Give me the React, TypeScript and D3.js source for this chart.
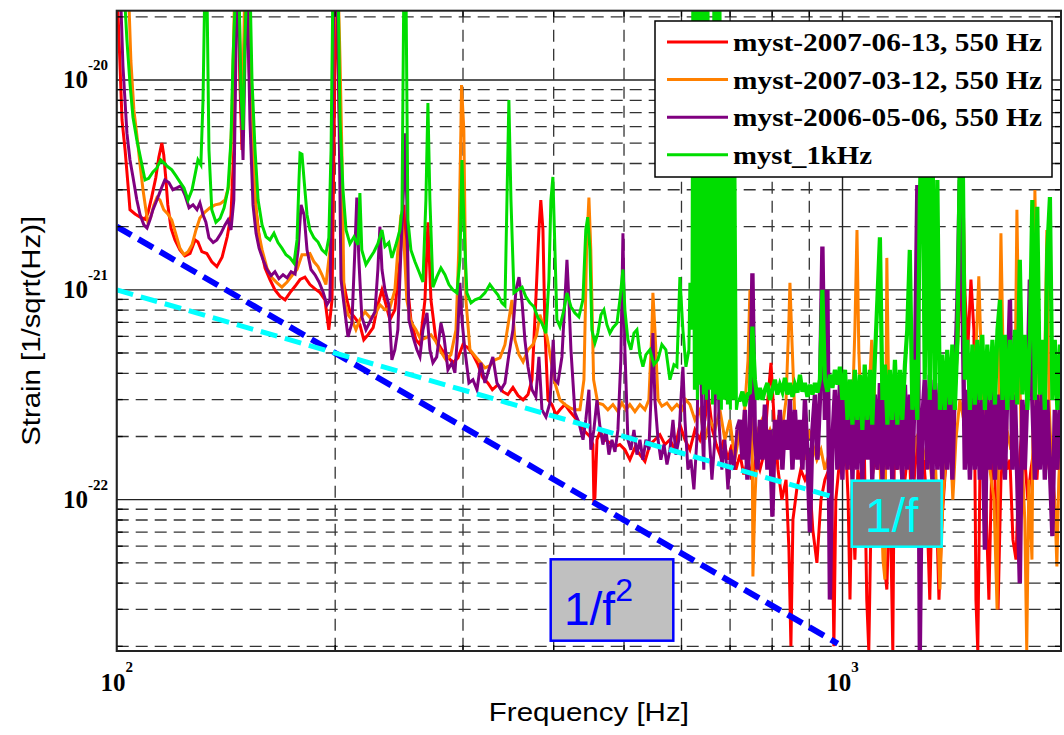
import React from "react";
import * as d3 from "d3";

const UNIT = 1e-22;

// [frequency Hz, strain in units of 1e-22]
const red: [number, number][] = [
[100,300],[101,124],[101.7,64.5],[102.7,46.4],[103.7,31],[104.3,24.1],[106,23],[107.7,22.2],[109.4,21.7],[110.4,23.2],[111.7,27.5],[113.2,34.2],[114.3,42.9],[115.4,50.1],[116.1,43.9],[116.9,33.4],[117.6,25.4],[118.8,19.7],[120.3,17.3],[122.2,15.5],[124.2,14.5],[126.2,14.9],[128.2,17.3],[129.4,16.9],[131,15.2],[133.1,14.9],[135.2,13.6],[137.4,12.9],[139.7,14.3],[142,17.9],[143.7,22.8],[145,46.4],[146,193],[147,300],[147.8,100],[148.8,46.4],[149.7,124],[150.7,300],[152.1,124],[153.6,46.4],[155.6,24.1],[157.6,16.4],[160.1,12.7],[162.6,11.2],[165.2,10],[167.9,9.3],[170.6,8.96],[173.3,9.7],[176.1,10.4],[178.9,11.2],[181.7,11.5],[184.6,10.6],[187.6,10.1],[190.6,9.7],[193.6,8.96],[196,6.45],[198,8.96],[199.9,124],[201.2,215],[203.1,46.4],[205,11.2],[207.6,8.96],[209.6,7.86],[212.9,7.36],[216.3,6.82],[219,5.78],[222,6.11],[225.6,6.6],[229,8.49],[232,10],[235,8.49],[237.9,7.2],[241.7,8.03],[245.6,13.9],[248.7,25.4],[251,11.2],[254.3,7.2],[258.4,5.78],[261.7,5.48],[265.9,8.96],[268.4,21],[271,8.96],[275.3,5.78],[280.6,5.18],[286,4.79],[290.6,4.49],[295.2,4.74],[299.9,5.48],[304.7,5.3],[309.6,4.91],[314.6,4.4],[319.5,3.81],[324.6,3.6],[329.3,3.34],[335,3.53],[340.5,3.27],[345.9,3.17],[351.5,3.43],[357.1,3.14],[363,2.99],[368.7,3.17],[373.4,3.73],[378,8.96],[381.7,19.3],[384,26.8],[386.6,19.3],[389.1,6.45],[392.8,2.99],[397.8,2.84],[402.9,2.54],[408,2.68],[414.5,2.84],[421.2,2.63],[427.9,2.46],[434.7,2.28],[441.7,2.11],[448.7,2.0],[453,1.83],[454.4,1.0],[455.9,1.02],[458.9,1.93],[463.2,2.11],[470.6,1.93],[478.1,1.87],[485.8,1.79],[493.5,1.83],[501.4,1.73],[509.4,1.55],[517.6,1.77],[525.9,1.64],[534.3,1.52],[542.8,1.83],[551.5,1.93],[560.3,2.04],[569.3,1.83],[578.4,1.93],[587.6,1.73],[597,2.28],[606.6,1.93],[616.2,1.73],[626.1,2.15],[636.1,1.93],[646.3,2.4],[653,3.17],[662,2.15],[670,1.83],[677.8,1.64],[686,1.93],[695,1.55],[704,1.83],[713,1.39],[722.2,1.64],[731,1.32],[741,1.55],[750,1.245],[760,1.58],[769.5,1.39],[779,1.64],[789,2.99],[797,4.49],[805,2.4],[815,1.39],[825,1.0],[836,1.245],[843.7,0.578],[849,0.2],[854.5,0.803],[865,1.12],[876,1.39],[887.6,1.245],[899,1.39],[910,0.72],[922,0.5],[934,1.0],[945.7,1.245],[957.8,1.39],[967,1.0],[973,0.2],[979,1.0],[988,1.39],[998,3.09],[1008,2.15],[1018,1.0],[1024,0.334],[1031,1.245],[1040,0.518],[1050,1.39],[1060,1.12],[1070,2.4],[1080,0.334],[1087,0.19],[1097,1.245],[1108,1.55],[1119,1.39],[1130,1.93],[1140,0.518],[1151,0.373],[1162,1.245],[1173,0.19],[1181,4.3],[1188,1.39],[1200,1.73],[1211,1.0],[1223,1.39],[1234,2.15],[1246,0.8],[1258,1.39],[1270,1.93],[1282,1.245],[1294,1.55],[1306,1.0],[1319,0.334],[1331,1.39],[1344,1.245],[1358,0.334],[1371,0.8],[1383,1.245],[1397,1.93],[1410,1.55],[1424,2.4],[1437,4.64],[1451,8.96],[1460,26.8],[1465,33.4],[1474,10],[1488,5.18],[1503,11.2],[1517,6.45],[1527,0.334],[1536,0.19],[1546,1.245],[1561,1.73],[1576,1.0],[1591,0.334],[1606,1.55],[1622,1.245],[1638,0.3],[1653,1.245],[1669,1.93],[1685,1.39],[1701,1.55],[1717,0.645],[1734,0.518],[1750,1.39],[1766,2.15],[1783,1.55],[1800,1.0],[1818,1.39],[1835,1.73],[1853,1.245],[1870,2.15],[1888,1.55],[1906,1.39],[1925,1.93],[1943,1.245],[1961,1.73],[1980,1.39],[1998,1.55]
];

const orange: [number, number][] = [
[100,464],[103.7,300],[104.6,124],[105.6,72],[106.6,54.7],[107.7,39.4],[108.7,30],[109.7,24.1],[110.4,21],[111.4,22.2],[112.5,25.4],[113.6,27.5],[114.7,26.8],[116.1,24.1],[117.6,23],[119.1,21.5],[120.7,18.3],[122.2,15.8],[123.8,14.7],[125.4,15.2],[127,16.4],[128.6,19.3],[130.2,22],[132.3,23.5],[134.4,24.6],[136.6,25.4],[138.8,25.7],[141,26.8],[142.8,31.6],[144.1,64.5],[145.5,300],[147.3,300],[148.8,51.8],[150.2,300],[152.1,300],[153.6,57.8],[155.1,26.8],[156.6,19.3],[158.6,15.5],[161.1,12.7],[163.7,11.4],[166.3,10.8],[168.9,10.3],[171.7,10.9],[174.4,11.7],[177.2,12.5],[180,14.7],[182.3,14.7],[184.6,14.9],[187,13.6],[189.4,12.9],[191.8,11.8],[194.2,10.6],[196.7,15.5],[198.6,124],[199.9,300],[201.8,300],[203.1,124],[204.4,41.6],[205.7,8.96],[208.3,7.61],[210.9,7.2],[213.6,6.45],[216.3,7.2],[219.8,7.86],[223.4,7.36],[226.9,7.61],[230.5,8.49],[234.2,8.03],[237.9,8.2],[241.7,10],[244,15.5],[246.4,22.8],[248.7,17.3],[251,8.96],[254.3,7.05],[258.4,6.45],[262.5,5.78],[266.7,5.9],[271,6.11],[275.3,5.66],[279.7,5.07],[284.2,4.64],[288.7,4.91],[293.4,6.45],[296,15.5],[298,57.8],[298.6,94.7],[300.8,57.8],[302.8,8.96],[306.7,5.18],[311.6,4.84],[316.5,4.54],[321.6,4.25],[326.7,4.35],[332,4.64],[337.3,4.74],[342.7,5.48],[347,7.2],[350.4,8.96],[353.7,5.78],[358.3,4.91],[363,4.54],[368.7,5.18],[374.5,5.48],[379,6.11],[382.9,7.61],[386.6,6.82],[391.6,5.97],[396.5,4.64],[401.6,3.6],[408,2.99],[414.5,2.84],[421.2,2.74],[427.9,2.68],[434.7,2.68],[440.3,3.73],[444,15.5],[447.3,27.5],[450,15.5],[454,3.73],[460,2.89],[467.6,2.84],[475,2.68],[482.7,2.84],[490.4,2.63],[496.7,2.89],[503,2.68],[509.4,2.84],[517.6,2.63],[525.9,2.84],[534.3,2.68],[541,2.99],[546.3,6.45],[548,9.67],[551.5,6.45],[557,2.99],[563.8,2.79],[572.9,2.89],[582,2.68],[591.3,2.84],[600.8,2.68],[608.5,2.99],[616.2,2.84],[626.1,2.4],[636.1,2.68],[646.3,1.93],[656.6,2.4],[667,2.15],[677.8,2.68],[688.6,1.93],[699.6,2.4],[710.8,1.55],[722.2,2.15],[731.4,2.4],[741,4.64],[745.5,10],[750.3,3.73],[752.6,0.43],[757.4,1.0],[764.6,2.15],[774.5,2.4],[784,1.93],[794.3,2.15],[804.4,1.83],[815,2.4],[825.4,2.15],[836,2.99],[843.7,7.2],[846.4,10.8],[851.7,5.78],[859.9,2.4],[868,1.73],[876,1.93],[887.6,1.55],[899,2.15],[910,1.83],[922,1.55],[934,1.73],[945.7,1.39],[957.8,1.64],[970,2.15],[982,1.73],[995,2.4],[1008,1.93],[1021,1.39],[1031,2.4],[1040,6.45],[1047,19.3],[1053,5.18],[1063,2.15],[1077,2.4],[1087,2.99],[1097,5.78],[1108,2.99],[1122,2.4],[1137,0.518],[1144,0.416],[1151,14.2],[1158,2.99],[1170,2.15],[1185,1.93],[1200,2.4],[1215,1.73],[1230,2.15],[1246,1.39],[1262,1.93],[1278,2.15],[1294,1.55],[1311,1.93],[1327,1.245],[1344,1.39],[1362,0.373],[1375,1.0],[1388,1.55],[1406,2.15],[1419,1.0],[1433,1.93],[1451,2.99],[1469,2.4],[1488,1.73],[1508,2.15],[1527,5.18],[1541,11.6],[1556,3.73],[1576,1.55],[1596,1.39],[1617,1.0],[1633,0.3],[1648,8.96],[1653,18.6],[1664,5.18],[1685,2.15],[1706,1.73],[1728,2.99],[1739,24.1],[1750,5.18],[1766,1.73],[1783,0.8],[1794,0.19],[1806,1.245],[1824,0.518],[1835,8.96],[1841,29.9],[1853,8.96],[1870,2.4],[1894,2.15],[1912,19.3],[1925,2.99],[1943,1.39],[1961,1.0],[1974,0.48],[1986,1.245],[1998,1.93]
];

const purpleLow: [number, number][] = [
[100,373],[101.4,215],[102,117],[103.3,55.8],[104.3,41.6],[105.3,34.5],[106.6,26.8],[107.7,22.8],[109,20.4],[110.1,19.7],[111.1,21.5],[112.2,24.1],[113.6,26.8],[115,30],[116.5,33.4],[118,32.5],[119.5,30],[121,30.6],[122.6,31.3],[124.2,28.3],[125.8,24.6],[127.4,25.4],[129,24.1],[130.2,26],[131.5,22.8],[132.7,21],[134,17.7],[135.8,16.8],[137.4,17.3],[139.2,18.6],[141,20.4],[142.3,21.5],[143.7,19.3],[145,26.8],[146,139],[147,300],[148.3,80.3],[149.3,41.6],[150.2,124],[151.2,300],[152.6,64.5],[154.1,25.4],[155.6,18.6],[157.1,15.8],[159.1,13.9],[161.1,12.5],[163.2,11.7],[165.2,12.2],[167.3,11.3],[169.5,11.8],[171.7,11.4],[173.9,12.2],[176.1,11.9],[177.8,15.5],[179.5,25.4],[181.2,22.8],[182.9,15.5],[185.2,12.5],[187.6,11.8],[190,10.9],[192.4,9.8],[194.8,8.49],[196.7,8.96],[198,46.4],[199.2,300],[201.2,300],[202.5,64.5],[203.7,11.2],[205.7,8.49],[208.3,5.97],[210.9,6.94],[212.9,15.5],[214.2,27.5],[215.6,13.9],[217.6,7.44],[220.5,6.45],[224,7.2],[226.9,7.86],[229,12.5],[230.5,20],[232,12.5],[234.2,10],[237.1,8.49],[239.4,4.64],[241.7,5.18],[244,6.45],[246.4,15.5],[248.7,33.4],[249.5,55.8],[251,26.8],[252.7,7.2],[256,5.97],[259.2,5.18],[261.7,4.79],[264.2,6.45],[267.6,7.76],[270.1,5.18],[272.7,4.49],[276,4.79],[279.7,6.94],[282.4,5.97],[286,4.16],[289.6,4.49],[292.4,4.02],[295.2,6.45],[297.1,10.8],[299,7.2],[301.8,5.18],[305.7,3.6],[309.6,3.73],[313.6,3.34],[317.5,4.49],[321.6,3.6],[325.6,4.16],[329.8,4.79],[334.1,3.6],[338.4,3.34],[342.7,3.6],[347,4.91],[351.5,6.45],[354.9,10],[358.3,11.5],[361.9,8.67],[365.1,5.78],[368.7,4.3],[373.4,3.34],[378,3.09],[381.7,4.79],[385.4,2.68],[390.3,2.48],[395.3,2.89],[399.4,5.78],[401.6,3.73],[405.4,3.6],[410.6,4.79],[414.5,8.96],[417.2,13.9],[419.8,8.96],[422.5,5.18],[427.9,2.59],[433.4,2.33],[439,1.93],[442.9,2.4],[447.3,3.34],[450,1.73],[454.4,2.15],[458.9,2.99],[463.2,2.23],[467.6,1.83],[472.1,2.15],[476.6,1.64],[481.2,1.93],[485.8,1.69],[490.4,2.15],[495,4.64],[498.3,18.6],[501.4,5.18],[506.2,1.93],[511,1.73],[516,2.15],[520.9,1.64],[525.9,1.93],[530.9,1.55],[536,1.93],[541.1,1.73],[544.5,2.99],[548,6.22],[551.5,2.99],[557,1.93],[562,1.55],[567.5,1.83],[573,1.47],[578.4,1.73],[584,2.4],[589.5,1.64],[595,1.93],[598.9,2.99],[602.7,4.3],[606.6,2.4],[612.4,1.39],[618.2,1.55],[624.1,1.12],[630,1.93],[636.1,12.9],[640,2.4],[644,1.39],[650,13.9],[654.5,2.15],[660.8,1.245],[667,1.93],[671.4,14.4],[675.6,2.4],[682,1.39],[688.6,1.93],[695.2,1.12],[701.8,1.73],[708.5,1.39],[715.3,2.15]
];

const greenLow: [number, number][] = [
[100,464],[102.4,268],[103.3,155],[104.3,96.5],[105.3,66.5],[106.6,51.8],[108,41.6],[109.4,33.4],[110.7,34],[112.2,36.5],[113.6,38.1],[115,41.6],[116.1,40.3],[117.6,38.6],[119.1,37.3],[120.7,34.9],[122.2,32.7],[123.8,30.6],[125.4,26.8],[127,30],[128.6,37.3],[129.4,41.6],[130.6,39.4],[131.5,80.3],[132.3,300],[133.1,300],[134,46.4],[135.2,24.1],[137,21],[138.8,21.9],[140.6,24.6],[142.3,30],[143.7,51.8],[144.6,124],[146,300],[147.3,300],[148.3,89.6],[149.3,57.8],[150.2,155],[151.2,300],[152.6,300],[153.6,100],[155.1,46.4],[156.6,26.8],[158.6,20.4],[160.6,17.9],[162.6,17.3],[164.7,18.6],[166.8,16.8],[168.9,15.8],[171.1,14.7],[173.3,14.2],[175.5,13.4],[177.2,17.3],[178.3,33.4],[178.9,44.8],[180,44.3],[181.2,33.4],[182.9,22.8],[184.6,19.3],[187,17.7],[189.4,16.9],[191.8,15.5],[194.2,14.9],[196,17.7],[197.4,46.4],[198.6,300],[201.8,300],[203.1,64.5],[205,30],[207,19.3],[209.6,16.6],[212.3,17.9],[215,16.4],[216.3,28.9],[217.6,15.5],[220.5,13.2],[223.4,14.2],[226.2,15.2],[229,16.6],[232,19.3],[234.2,16.1],[237.1,16.8],[239.4,14.2],[242.5,16.4],[245.6,19.3],[247.2,24.1],[248.7,300],[250.3,300],[251.9,21.5],[254.3,15.5],[257.6,13.6],[260.9,12.2],[264.2,10.9],[266.7,26.8],[268.4,77.7],[270.1,26.8],[272.7,10.3],[276,11.5],[279.7,12.7],[283.3,11.8],[286.9,10.6],[290.6,10],[294.3,9.67],[297.1,13.9],[299,41.6],[300.8,21.5],[303.7,9.67],[307.7,8.67],[311.6,8.96],[316.5,9.15],[321.6,9.67],[326.7,10.6],[330.9,10],[335.1,9.47],[339.4,8.67],[342.7,8.4],[344.9,26.8],[347,80.3],[349.3,26.8],[352.6,9.67],[357.1,10],[361.9,10.3],[366.3,9.25],[371,8.67],[375.7,8.31],[380.5,7.36],[385.3,6.94],[390.3,6.22],[394,11.2],[396.5,26.8],[399,34.5],[401.6,15.5],[404.1,7.2],[408,6.68],[413.2,8.03],[417.2,9.67],[422.5,8.31],[427.9,7.76],[433.3,7.44],[438.9,8.96],[442.9,19.3],[445.6,22.2],[448.7,15.5],[451.5,6.45],[455.9,5.58],[460.2,6.22],[464.7,7.61],[469.1,8.03],[473.6,6.82],[478.1,6.22],[482.7,6.6],[488.9,6.94],[493.5,8.96],[498.3,12.5],[501.4,8.03],[506.2,5.78],[511,5.18],[516,6.22],[520.9,6.45],[525.9,4.91],[530.9,4.3],[536,4.91],[542.8,5.18],[549.7,4.4],[556.7,4.64],[563.8,5.48],[571,5.18],[578.4,3.73],[585.8,4.4],[591.3,4.3],[597,11.5],[602.7,6.45],[608.5,4.3],[614.3,5.18],[616.2,10.8],[620.2,6.45],
[622,300],[625,3.34],[628,300],[631,2.99],[634,300],[637,3.53],[640.1,300],[643.1,3.17],[646.3,300],[649.4,2.99],[652.5,300],[655.6,3.34],[658.7,46.4],[661.9,2.84],[665,300],[668.2,3.17],[671.4,300],[674.6,2.99],[677.8,300],[681,2.68],[684.3,124],[687.5,2.99],[690.8,100],[694.1,2.84],[697.4,80.3],[700.7,2.68],[704.1,64.5],[707.4,2.99],[710.8,41.6],[714.2,2.68],[717.6,2.99]
];

// dense high-frequency part: shared frequency list and per-series values (1e-22)
const hfFreq = [722.2,728,733.7,739.6,745.5,751.4,757.4,763.4,769.5,775.6,781.8,788,794.3,800.6,807,813.4,819.9,826.4,833,839.7,846.4,853.1,859.9,866.8,873.7,880.6,887.6,894.7,901.8,909,916.2,923.5,930.8,938.2,945.7,953.2,960.8,968.5,976.2,983.9,991.7,999.6,1008,1016,1024,1032,1040,1048,1057,1065,1073,1082,1091,1099,1108,1117,1126,1135,1144,1153,1162,1171,1181,1190,1200,1209,1219,1228,1238,1248,1258,1268,1278,1288,1298,1309,1319,1330,1340,1351,1362,1372,1383,1394,1406,1417,1428,1440,1451,1463,1474,1486,1498,1510,1522,1534,1546,1558,1571,1583,1596,1609,1622,1635,1648,1661,1674,1687,1701,1714,1728,1741,1755,1769,1783,1798,1812,1826,1841,1855,1870,1885,1900,1915,1931,1946,1961,1977,1993,2009];

const purpleHF = [2.40,1.55,2.68,1.245,2.15,12.0,1.93,1.39,2.40,1.55,
2.84,1.39,2.15,0.83,2.40,1.55,2.68,1.39,2.40,1.73,
2.99,1.39,2.68,1.55,2.40,1.39,2.99,1.64,0.70,2.15,
3.17,1.55,2.99,16.1,2.40,10,0.334,1.93,3.34,1.39,
3.53,1.245,3.34,1.39,3.73,1.245,3.17,1.39,3.53,1.245,
3.34,1.55,3.53,1.245,3.17,1.39,3.60,1.245,3.34,1.39,
3.53,1.245,3.17,1.39,3.34,1.245,3.53,1.39,3.17,1.245,
3.73,31.6,0.19,2.40,3.73,1.39,3.94,1.245,3.73,1.39,
3.60,1.245,3.73,1.39,3.34,1.245,3.53,8.96,33.4,10,
1.39,3.34,1.245,3.17,1.39,3.34,1.245,2.99,0.578,3.17,
1.39,3.34,1.245,3.17,1.39,3.53,1.245,3.34,8.96,1.39,
3.17,1.245,0.40,2.99,1.39,3.34,11.2,2.99,1.245,3.17,
1.39,3.34,1.245,2.99,1.39,0.67,2.68,1.39,2.99,1.55];

const greenHF = [2.99,3.27,2.79,3.17,3.24,6.68,3.73,2.99,3.41,2.99,
3.34,3.60,2.99,3.34,3.73,3.17,3.53,3.27,3.81,3.17,
3.60,3.09,3.53,3.24,3.94,3.27,3.60,3.09,3.53,3.17,
3.60,3.24,3.73,10,3.73,3.27,3.94,3.41,4.16,3.53,
4.30,2.99,4.16,2.40,3.73,2.28,4.16,2.40,3.94,2.15,
4.40,2.40,4.16,2.28,4.64,8.96,17.8,2.99,4.40,2.28,
4.16,2.40,4.64,2.28,4.16,2.40,4.40,6.45,15.5,2.68,
4.64,2.40,26.8,80.3,3.73,46.4,2.99,64.5,3.34,33.4,
2.68,4.91,2.68,5.18,2.84,5.48,2.68,5.78,46.4,64.5,
3.73,5.78,2.68,5.48,2.84,5.78,2.99,6.11,2.68,5.48,
2.99,5.78,2.84,6.45,8.96,2.99,6.11,2.68,5.78,2.99,
6.45,2.84,13.9,3.17,6.11,2.68,5.78,26.8,2.99,24.9,
3.17,5.78,2.68,15.5,27.7,2.99,5.78,2.68,5.48,2.99];

// reference power laws: endpoints [Hz, 1e-22]
const invF2: [number, number][] = [[100, 20], [985, 0.206]];
const invF: [number, number][] = [[100, 10], [975, 1.026]];

const seriesNames = ["myst-2007-06-13, 550 Hz", "myst-2007-03-12, 550 Hz", "myst-2006-05-06, 550 Hz", "myst_1kHz"];
const seriesColors = ["#ff0000", "#ff8000", "#800080", "#00dd00"];
const xMajor = [100, 1000];
const xMinor = [200, 300, 400, 500, 600, 700, 800, 900, 2000];
const yMajor = [1e-22, 1e-21, 1e-20];
const yExp = ["-22", "-21", "-20"];
const xExp = ["2", "3"];

export default function App() {
  const L = 116.7, R = 1061, T = 10.7, B = 651;
  const x = d3.scaleLog().domain([100, 2000]).range([L, R]);
  const y = d3.scaleLog().domain([1.9e-23, 2.14e-20]).range([B, T]);
  const line = d3.line<[number, number]>().x(d => x(d[0])).y(d => y(d[1] * UNIT));
  const yMinor: number[] = [];
  for (let e = -23; e <= -20; e++) for (let m = 2; m <= 9; m++) {
    const v = m * Math.pow(10, e);
    if (v > 1.9e-23 && v < 2.14e-20) yMinor.push(v);
  }
  const purpleTail = [purpleLow[purpleLow.length - 1]].concat(hfFreq.map((f, i) => [f, purpleHF[i]] as [number, number]));
  const greenTail = [greenLow[greenLow.length - 1]].concat(hfFreq.map((f, i) => [f, greenHF[i]] as [number, number]));
  const paths: { d: [number, number][]; c: string; w: number }[] = [
    { d: red, c: seriesColors[0], w: 3 },
    { d: orange, c: seriesColors[1], w: 3 },
    { d: purpleLow, c: seriesColors[2], w: 3 },
    { d: purpleTail, c: seriesColors[2], w: 4.4 },
    { d: greenLow, c: seriesColors[3], w: 3 },
    { d: greenTail, c: seriesColors[3], w: 4.2 },
  ];
  const serif = "'Liberation Serif','Times New Roman',serif";
  const sans = "'Liberation Sans',Arial,sans-serif";
  const grid = "#333";
  const dash = "12,7";
  return (
    <svg width={1064} height={735} style={{ position: "absolute", left: 0, top: 0, background: "#fff" }}>
      <defs>
        <clipPath id="plot"><rect x={L} y={T} width={R - L} height={B - T} /></clipPath>
      </defs>
      <rect x={0} y={0} width={1064} height={735} fill="#fff" />
      {yMinor.map((v, i) => <line key={"ym" + i} x1={L} x2={R} y1={y(v)} y2={y(v)} stroke={grid} strokeWidth={1.3} strokeDasharray={dash} />)}
      {yMajor.map((v, i) => <line key={"yM" + i} x1={L} x2={R} y1={y(v)} y2={y(v)} stroke="#222" strokeWidth={1.4} />)}
      {xMinor.map((v, i) => <line key={"xm" + i} x1={x(v)} x2={x(v)} y1={T} y2={B} stroke={grid} strokeWidth={1.3} strokeDasharray={dash} />)}
      {xMajor.map((v, i) => <line key={"xM" + i} x1={x(v)} x2={x(v)} y1={T} y2={B} stroke="#222" strokeWidth={1.4} />)}
      <g clipPath="url(#plot)">
        {paths.map((p, i) => <path key={i} d={line(p.d) || ""} fill="none" stroke={p.c} strokeWidth={p.w} />)}
        <path d={line(invF2) || ""} stroke="#0000ff" strokeWidth={6} strokeDasharray="17,8" fill="none" />
        <path d={line(invF) || ""} stroke="#00ffff" strokeWidth={5} strokeDasharray="17,8" fill="none" />
      </g>
      {xMinor.map((v, i) => <g key={"xt" + i}>
        <line x1={x(v)} x2={x(v)} y1={B} y2={B - 6} stroke="#000" strokeWidth={1.3} />
        <line x1={x(v)} x2={x(v)} y1={T} y2={T + 6} stroke="#000" strokeWidth={1.3} />
      </g>)}
      {yMinor.map((v, i) => <g key={"yt" + i}>
        <line x1={L} x2={L + 6} y1={y(v)} y2={y(v)} stroke="#000" strokeWidth={1.3} />
        <line x1={R} x2={R - 6} y1={y(v)} y2={y(v)} stroke="#000" strokeWidth={1.3} />
      </g>)}
      <rect x={L} y={T} width={R - L} height={B - T} fill="none" stroke="#222" strokeWidth={2} />
      {yMajor.map((v, i) => (
        <text key={"yl" + i} x={108} y={y(v) + 8} textAnchor="end" fontFamily={serif} fontWeight="bold" fontSize={25}>
          10<tspan dy={-18} fontSize={15}>{yExp[i]}</tspan>
        </text>
      ))}
      {xMajor.map((v, i) => (
        <text key={"xl" + i} x={x(v)} y={691} textAnchor="middle" fontFamily={serif} fontWeight="bold" fontSize={25}>
          10<tspan dy={-19} fontSize={15}>{xExp[i]}</tspan>
        </text>
      ))}
      <text x={(L + R) / 2} y={721} textAnchor="middle" fontFamily={sans} fontSize={25} textLength={200} lengthAdjust="spacingAndGlyphs">Frequency [Hz]</text>
      <text transform={`translate(40,${(T + B) / 2}) rotate(-90)`} textAnchor="middle" fontFamily={sans} fontSize={25} textLength={230} lengthAdjust="spacingAndGlyphs">Strain [1/sqrt(Hz)]</text>
      <rect x={851.7} y={480.7} width={90} height={66} fill="#808080" stroke="#00ffff" strokeWidth={2.5} />
      <text x={865} y={532} fontFamily={sans} fontSize={48} fill="#00ffff">1/f</text>
      <rect x={550.7} y={559.3} width={122.6} height={81.4} fill="#c0c0c0" stroke="#0000ff" strokeWidth={2.5} />
      <text x={564} y={625} fontFamily={sans} fontSize={46} fill="#0000ff">1/f<tspan dy={-24} fontSize={32}>2</tspan></text>
      <rect x={655} y={21} width={397} height={156} fill="#fff" stroke="#000" strokeWidth={1.5} />
      {seriesNames.map((n, i) => {
        const ly = 42 + i * 37.6;
        return (
          <g key={"lg" + i}>
            <line x1={667} x2={728} y1={ly} y2={ly} stroke={seriesColors[i]} strokeWidth={3} />
            <text x={733} y={ly + 9} fontFamily={serif} fontWeight="bold" fontSize={26}
              textLength={i < 3 ? 309 : 139} lengthAdjust="spacingAndGlyphs">{n}</text>
          </g>
        );
      })}
    </svg>
  );
}
